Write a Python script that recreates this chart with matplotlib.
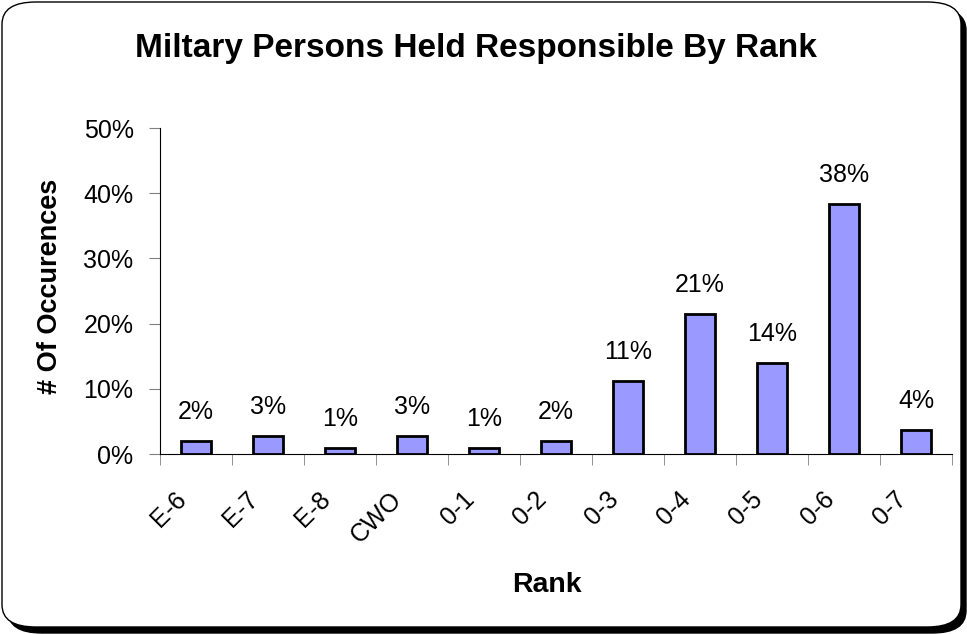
import matplotlib.pyplot as plt
import numpy as np
from matplotlib.patches import FancyBboxPatch
from matplotlib.ticker import PercentFormatter
from matplotlib.transforms import ScaledTranslation

plt.rcParams['font.family'] = ['Liberation Sans', 'DejaVu Sans']

# data
ranks = ['E-6', 'E-7', 'E-8', 'CWO', '0-1', '0-2', '0-3', '0-4', '0-5', '0-6', '0-7']
share = [2.0, 2.8, 0.9, 2.8, 0.9, 2.0, 11.2, 21.5, 14.0, 38.3, 3.7]
labels = ['2%', '3%', '1%', '3%', '1%', '2%', '11%', '21%', '14%', '38%', '4%']

fig = plt.figure(figsize=(9.67, 6.34), dpi=100)

# rounded frame with shadow (pixel coords -> figure fraction)
W, H = 967, 634
def fx(px):
    return px / W
def fy(py):
    return 1 - py / H

shadow = FancyBboxPatch((fx(8), fy(633)), fx(966) - fx(8), fy(8) - fy(633),
                        boxstyle='round,pad=0,rounding_size=0.035',
                        transform=fig.transFigure, facecolor='black',
                        edgecolor='black', zorder=0)
frame = FancyBboxPatch((fx(2), fy(627)), fx(961) - fx(2), fy(2) - fy(627),
                       boxstyle='round,pad=0,rounding_size=0.035',
                       transform=fig.transFigure, facecolor='white',
                       edgecolor='black', linewidth=1, zorder=1)
fig.patches.extend([shadow, frame])

ax = fig.add_axes([fx(160), fy(454), fx(952) - fx(160), fy(128) - fy(454)])
ax.set_zorder(2)
ax.patch.set_alpha(0)

x = np.arange(len(ranks))
ax.bar(x, share, width=0.42, color='#9999FF', edgecolor='black', linewidth=2)
for xi, v, lab in zip(x, share, labels):
    ax.text(xi, v + 2.6, lab, ha='center', va='bottom', fontsize=18)

ax.set_xlim(-0.5, len(ranks) - 0.5)
ax.set_ylim(0, 50)
ax.set_yticks(np.arange(0, 51, 10))
ax.yaxis.set_major_formatter(PercentFormatter(decimals=0))

# category labels, rotated, sitting a little left of each bar like Excel does
ax.set_xticks(x)
ax.set_xticklabels([])
shift = ax.get_xaxis_transform() + ScaledTranslation(-0.22, -0.33, fig.dpi_scale_trans)
for xi, r in zip(x, ranks):
    ax.text(xi, 0, r, transform=shift, rotation=45, ha='right', va='top',
            rotation_mode='anchor', fontsize=18)
ax.set_xticks(np.arange(-0.5, len(ranks)), minor=True)
ax.tick_params(axis='x', which='major', length=0)
ax.tick_params(axis='x', which='minor', length=8, color='#808080')
ax.tick_params(axis='y', length=8, labelsize=18, color='#808080', pad=11)

for s in ['top', 'right']:
    ax.spines[s].set_visible(False)

fig.text(fx(50), fy(286), '# Of Occurences', rotation=90, ha='center', va='center',
         fontsize=19.5, fontweight='bold')
fig.text(fx(547), fy(585), 'Rank', ha='center', va='center', fontsize=20.5, fontweight='bold')
fig.text(fx(476), fy(48), 'Miltary Persons Held Responsible By Rank', ha='center', va='center',
         fontsize=24, fontweight='bold')

fig.savefig('out.png', dpi=100)
